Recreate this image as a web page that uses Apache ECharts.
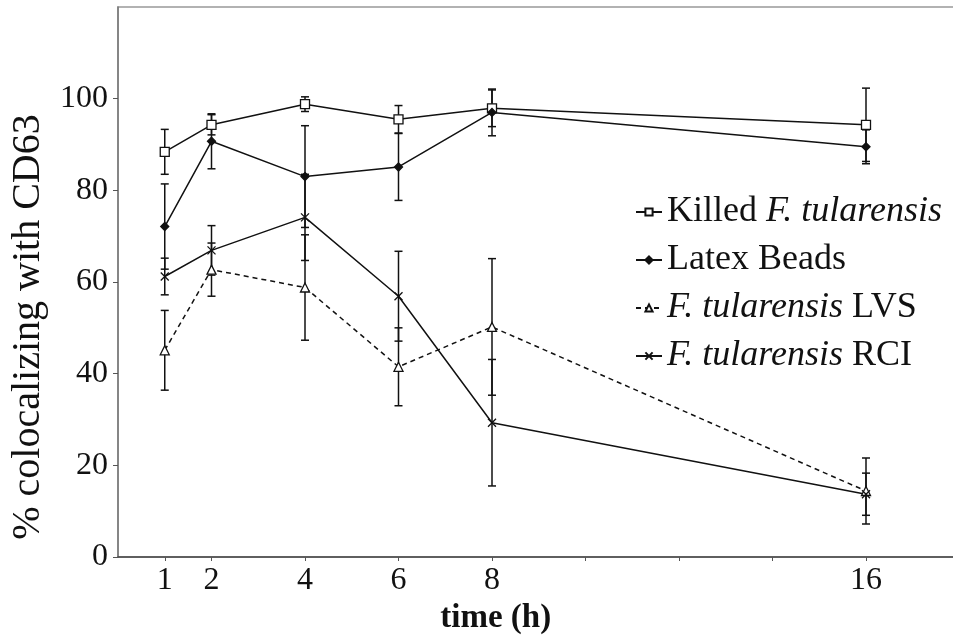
<!DOCTYPE html>
<html>
<head>
<meta charset="utf-8">
<script src="https://cdn.jsdelivr.net/npm/echarts@6/dist/echarts.min.js"></script>
<style>
  html, body { margin: 0; padding: 0; background: #fff; }
  #main { width: 953px; height: 640px; }
</style>
</head>
<body>
<div id="main"></div>
<script>
// time points (h)
var times = [1, 2, 4, 6, 8, 16];

// % colocalizing with CD63, mean and error (+/-)
var killed = [88.4, 94.3, 98.8, 95.5, 97.9, 94.3];
var killedErr = [4.9, 2.2, 1.6, 3.0, 4.0, 8.0];
var latex = [72.1, 90.7, 83.0, 85.1, 97.0, 89.5];
var latexErr = [9.3, 6.0, 11.1, 7.3, 5.1, 3.7];
var lvs = [45.1, 62.7, 58.8, 41.5, 50.2, 14.4];
var lvsErr = [8.7, 5.8, 11.5, 8.5, 14.9, 7.2];
var rci = [61.2, 66.9, 74.1, 56.9, 29.3, 13.7];
var rciErr = [4.0, 5.4, 9.4, 9.8, 13.8, 4.6];

var xLabels = [1, 2, 4, 6, 8, 16];
var xTicks = [1, 2, 4, 6, 8, 10, 12, 14, 16];
var yTicks = [0, 20, 40, 60, 80, 100];

var names = ['Killed F. tularensis', 'Latex Beads', 'F. tularensis LVS', 'F. tularensis RCI'];
var legendText = {
  'Killed F. tularensis': '{r|Killed }{i|F. tularensis}',
  'Latex Beads': '{r|Latex Beads}',
  'F. tularensis LVS': '{i|F. tularensis}{r| LVS}',
  'F. tularensis RCI': '{i|F. tularensis}{r| RCI}'
};

var ink = '#111';
var serif = 'Liberation Serif';

function pairs(ys) {
  return times.map(function (t, i) { return [t, ys[i]]; });
}
function bars(ys, err) {
  return times.map(function (t, i) { return [t, ys[i] - err[i], ys[i] + err[i]]; });
}

function renderErr(params, api) {
  var x = api.value(0);
  var top = api.coord([x, api.value(2)]);
  var bot = api.coord([x, api.value(1)]);
  var w = 4;
  var st = { stroke: ink, lineWidth: 1.5 };
  return {
    type: 'group',
    children: [
      { type: 'line', shape: { x1: top[0], y1: top[1], x2: bot[0], y2: bot[1] }, style: st },
      { type: 'line', shape: { x1: top[0] - w, y1: top[1], x2: top[0] + w, y2: top[1] }, style: st },
      { type: 'line', shape: { x1: bot[0] - w, y1: bot[1], x2: bot[0] + w, y2: bot[1] }, style: st }
    ]
  };
}

function errSeries(ys, err) {
  return {
    type: 'custom',
    renderItem: renderErr,
    data: bars(ys, err),
    z: 1,
    silent: true
  };
}

function lineSeries(name, ys, symbol, size, fill, dashed) {
  return {
    name: name,
    type: 'line',
    data: pairs(ys),
    symbol: symbol,
    symbolSize: size,
    showAllSymbol: true,
    z: 3,
    lineStyle: { color: ink, width: 1.5, type: dashed ? [5, 4] : 'solid' },
    itemStyle: { color: fill, borderColor: ink, borderWidth: 1.3 },
    emphasis: { disabled: true }
  };
}

var myChart = echarts.init(document.getElementById('main'));
var option = {
  animation: false,
  backgroundColor: '#fff',
  grid: {
    left: 118, top: 7, width: 841.5, height: 550,
    show: true, borderColor: '#999', borderWidth: 1.5,
    outerBoundsMode: 'none'
  },
  legend: {
    data: names,
    orient: 'vertical',
    left: 630,
    top: 189,
    itemWidth: 26,
    itemHeight: 9,
    itemGap: 12,
    formatter: function (name) { return legendText[name]; },
    textStyle: {
      color: ink, fontFamily: serif, fontSize: 36, lineHeight: 36,
      rich: {
        r: { fontFamily: serif, fontSize: 36, lineHeight: 36, color: ink, fontStyle: 'normal' },
        i: { fontFamily: serif, fontSize: 36, lineHeight: 36, color: ink, fontStyle: 'italic' }
      }
    }
  },
  xAxis: {
    type: 'value',
    min: 0,
    max: 18,
    name: 'time (h)',
    nameLocation: 'middle',
    nameGap: 44,
    nameTextStyle: { fontFamily: serif, fontSize: 33, fontWeight: 'bold', color: ink, padding: [0, 86, 0, 0] },
    splitLine: { show: false },
    axisLine: { lineStyle: { color: '#444', width: 1.5 } },
    axisTick: { customValues: xTicks, length: 4, lineStyle: { color: '#555' } },
    axisLabel: { customValues: xLabels, margin: 8, fontFamily: serif, fontSize: 32, color: ink }
  },
  yAxis: {
    type: 'value',
    min: 0,
    max: 120,
    name: '% colocalizing with CD63',
    nameLocation: 'middle',
    nameGap: 70,
    nameTextStyle: { fontFamily: serif, fontSize: 40, color: ink, padding: [0, 90, 0, 0] },
    splitLine: { show: false },
    axisLine: { show: true, lineStyle: { color: '#777', width: 1.5 } },
    axisTick: { show: true, customValues: yTicks, length: 5, lineStyle: { color: '#555' } },
    axisLabel: { customValues: yTicks, margin: 10, fontFamily: serif, fontSize: 32, color: ink }
  },
  series: [
    errSeries(killed, killedErr),
    errSeries(latex, latexErr),
    errSeries(lvs, lvsErr),
    errSeries(rci, rciErr),
    lineSeries('Killed F. tularensis', killed, 'rect', 9, '#fff', false),
    lineSeries('Latex Beads', latex, 'diamond', 8, ink, false),
    lineSeries('F. tularensis LVS', lvs, 'triangle', 9, '#fff', true),
    lineSeries('F. tularensis RCI', rci, 'path://M0,0L10,10M10,0L0,10', 8, 'none', false)
  ]
};
myChart.setOption(option);
</script>
</body>
</html>
